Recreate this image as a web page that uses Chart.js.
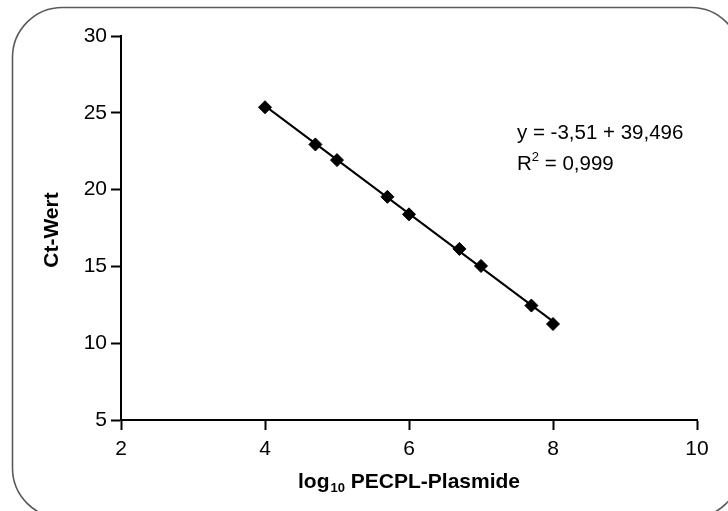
<!DOCTYPE html>
<html><head><meta charset="utf-8">
<script src="https://cdn.jsdelivr.net/npm/chart.js@4.4.1/dist/chart.umd.min.js"></script>
<style>html,body{margin:0;padding:0;background:#fff;} #wrap{width:728px;height:511px;position:relative;overflow:hidden;}</style>
</head><body><div id="wrap"><canvas id="c" width="728" height="511"></canvas></div>
<script>
const xValues = [4, 4.7, 5, 5.7, 6, 6.7, 7, 7.7, 8];
const ctValues = [25.36, 22.94, 21.92, 19.53, 18.39, 16.14, 15.03, 12.45, 11.25];
const trendX = [4, 8];
const trendY = [25.45, 11.42];
const xTicks = [2, 4, 6, 8, 10];
const yTicks = [5, 10, 15, 20, 25, 30];
const equationText = 'y = -3,51 + 39,496';
const r2Label = 'R';
const r2Sup = '2';
const r2Value = ' = 0,999';
const xTitleMain = 'log';
const xTitleSub = '10';
const xTitleRest = ' PECPL-Plasmide';
const yTitle = 'Ct-Wert';

const FONT = '"Liberation Sans", Arial, Helvetica, sans-serif';

const frame = {
  id: 'frame',
  beforeDraw(chart) {
    const ctx = chart.ctx;
    const l = 12.5, t = 7.5, r = 741, b = 518, rad = 50;
    ctx.save();
    ctx.fillStyle = '#fff';
    ctx.fillRect(0, 0, chart.width, chart.height);
    ctx.beginPath();
    ctx.moveTo(l + rad, t);
    ctx.lineTo(r - rad, t);
    ctx.arc(r - rad, t + rad, rad, -Math.PI / 2, 0);
    ctx.lineTo(r, b - rad);
    ctx.arc(r - rad, b - rad, rad, 0, Math.PI / 2);
    ctx.lineTo(l + rad, b);
    ctx.arc(l + rad, b - rad, rad, Math.PI / 2, Math.PI);
    ctx.lineTo(l, t + rad);
    ctx.arc(l + rad, t + rad, rad, Math.PI, Math.PI * 1.5);
    ctx.closePath();
    ctx.strokeStyle = '#5a5a5a';
    ctx.lineWidth = 1.6;
    ctx.stroke();
    ctx.restore();
  },
  afterDraw(chart) {
    const ctx = chart.ctx;
    const a = chart.chartArea;
    ctx.save();
    ctx.fillStyle = '#000';
    // annotation
    ctx.font = '20.5px ' + FONT;
    ctx.textAlign = 'left';
    ctx.textBaseline = 'alphabetic';
    ctx.fillText(equationText, 517, 139);
    ctx.fillText(r2Label, 517, 170);
    let w = ctx.measureText(r2Label).width;
    ctx.font = '13px ' + FONT;
    ctx.fillText(r2Sup, 517 + w, 161);
    const w2 = ctx.measureText(r2Sup).width;
    ctx.font = '20.5px ' + FONT;
    ctx.fillText(r2Value, 517 + w + w2, 170);
    // x title
    ctx.font = 'bold 21px ' + FONT;
    const w1 = ctx.measureText(xTitleMain).width;
    const w3 = ctx.measureText(xTitleRest).width;
    ctx.font = 'bold 13px ' + FONT;
    const ws = ctx.measureText(xTitleSub).width;
    const total = w1 + ws + w3 + 1;
    let x0 = (a.left + a.right) / 2 - total / 2;
    ctx.font = 'bold 21px ' + FONT;
    ctx.fillText(xTitleMain, x0, 488);
    ctx.font = 'bold 13px ' + FONT;
    ctx.fillText(xTitleSub, x0 + w1 + 1, 492);
    ctx.font = 'bold 21px ' + FONT;
    ctx.fillText(xTitleRest, x0 + w1 + ws + 1, 488);
    // y title
    ctx.translate(52, (a.top + a.bottom) / 2 + 2);
    ctx.rotate(-Math.PI / 2);
    ctx.textAlign = 'center';
    ctx.textBaseline = 'middle';
    ctx.font = 'bold 21px ' + FONT;
    ctx.fillText(yTitle, 0, 0);
    ctx.restore();
  }
};

const axisCommon = {
  grid: { display: true, drawOnChartArea: false, drawTicks: true, tickLength: 10, tickWidth: 2, tickColor: '#000', color: '#000' },
  border: { display: true, color: '#000', width: 2 },
};

new Chart(document.getElementById('c'), {
  type: 'scatter',
  data: {
    datasets: [
      {
        type: 'line',
        data: trendX.map((x, i) => ({ x: x, y: trendY[i] })),
        borderColor: '#000',
        borderWidth: 2,
        pointRadius: 0,
        fill: false,
        order: 2
      },
      {
        data: xValues.map((x, i) => ({ x: x, y: ctValues[i] })),
        pointStyle: 'rectRot',
        pointRadius: 6.5,
        pointBackgroundColor: '#000',
        pointBorderColor: '#000',
        pointBorderWidth: 1,
        order: 1
      }
    ]
  },
  options: {
    responsive: false,
    devicePixelRatio: 1,
    animation: false,
    layout: { padding: { left: 0, right: 31, top: 36, bottom: 0 } },
    plugins: { legend: { display: false }, tooltip: { enabled: false } },
    scales: {
      x: Object.assign({}, axisCommon, {
        type: 'linear', min: 2, max: 10,
        afterBuildTicks: s => { s.ticks = xTicks.map(v => ({ value: v })); },
        afterFit: s => { s.height = 91; },
        ticks: { color: '#000', font: { family: FONT, size: 21 }, padding: 7 }
      }),
      y: Object.assign({}, axisCommon, {
        type: 'linear', min: 5, max: 30,
        afterBuildTicks: s => { s.ticks = yTicks.map(v => ({ value: v })); },
        afterFit: s => { s.width = 121; },
        ticks: { color: '#000', font: { family: FONT, size: 21 }, padding: 4 }
      })
    }
  },
  plugins: [frame]
});
</script>
</body></html>
